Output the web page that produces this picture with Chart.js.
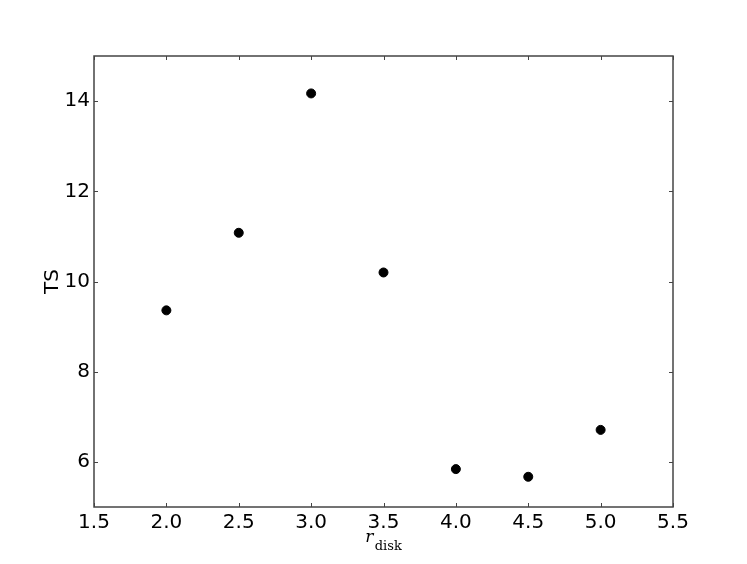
<!DOCTYPE html>
<html>
<head>
<meta charset="utf-8">
<script src="https://cdn.jsdelivr.net/npm/chart.js@4"></script>
<style>
  html, body { margin: 0; padding: 0; background: #fff; }
  #wrap { width: 747px; height: 564px; }
</style>
</head>
<body>
<div id="wrap"><canvas id="grafico"></canvas></div>
<script>
// valores
const rDisk = [2.0, 2.5, 3.0, 3.5, 4.0, 4.5, 5.0];
const tsValues = [9.36, 11.08, 14.17, 10.2, 5.84, 5.67, 6.71];
const xTicks = [1.5, 2.0, 2.5, 3.0, 3.5, 4.0, 4.5, 5.0, 5.5];
const yTicks = [6, 8, 10, 12, 14];

const FONT = 'DejaVu Sans';

// moldura, ticks para dentro nos quatro lados e títulos dos eixos
const framePlugin = {
  id: 'frame',
  afterDraw(chart) {
    const { ctx, chartArea: a, scales } = chart;
    ctx.save();
    ctx.strokeStyle = '#444';
    ctx.lineWidth = 1.5;
    ctx.strokeRect(a.left, a.top, a.right - a.left, a.bottom - a.top);

    ctx.lineWidth = 1;
    ctx.beginPath();
    xTicks.forEach(v => {
      const px = Math.round(scales.x.getPixelForValue(v)) + 0.5;
      ctx.moveTo(px, a.bottom); ctx.lineTo(px, a.bottom - 4);
      ctx.moveTo(px, a.top); ctx.lineTo(px, a.top + 4);
    });
    yTicks.forEach(v => {
      const py = Math.round(scales.y.getPixelForValue(v)) + 0.5;
      ctx.moveTo(a.left, py); ctx.lineTo(a.left + 4, py);
      ctx.moveTo(a.right, py); ctx.lineTo(a.right - 4, py);
    });
    ctx.stroke();

    // título do eixo x: r_disk
    ctx.fillStyle = '#000';
    ctx.textBaseline = 'alphabetic';
    const cx = (a.left + a.right) / 2;
    ctx.font = 'italic 17px "DejaVu Serif"';
    const wR = ctx.measureText('r').width;
    ctx.font = '13px "DejaVu Serif"';
    const wSub = ctx.measureText('disk').width;
    const x0 = cx - (wR + 1.5 + wSub) / 2;
    ctx.font = 'italic 17px "DejaVu Serif"';
    ctx.textAlign = 'left';
    ctx.fillText('r', x0, 542);
    ctx.font = '13px "DejaVu Serif"';
    ctx.fillText('disk', x0 + wR + 1.5, 550);

    // título do eixo y
    ctx.translate(58, (a.top + a.bottom) / 2);
    ctx.rotate(-Math.PI / 2);
    ctx.textAlign = 'center';
    ctx.font = '20px "' + FONT + '"';
    ctx.fillText('TS', 0, 0);
    ctx.restore();
  }
};

const ctx = document.getElementById('grafico');
new Chart(ctx, {
  type: 'scatter',
  data: {
    datasets: [{
      data: rDisk.map((x, i) => ({ x: x, y: tsValues[i] })),
      backgroundColor: '#000',
      borderColor: '#000',
      pointRadius: 4.5,
      pointHoverRadius: 4.5
    }]
  },
  options: {
    responsive: true,
    maintainAspectRatio: false,
    animation: false,
    events: [],
    layout: { padding: { left: 0, right: 74, top: 56, bottom: 0 } },
    plugins: { legend: { display: false }, tooltip: { enabled: false } },
    scales: {
      x: {
        type: 'linear',
        min: 1.5, max: 5.5,
        grid: { display: false, drawTicks: false },
        border: { display: false },
        afterBuildTicks: s => { s.ticks = xTicks.map(v => ({ value: v })); },
        afterFit: s => { s.height = 57; },
        ticks: {
          color: '#000',
          padding: 4,
          maxRotation: 0,
          font: { family: FONT, size: 20 },
          callback: v => v.toFixed(1)
        }
      },
      y: {
        min: 5, max: 15,
        grid: { display: false, drawTicks: false },
        border: { display: false },
        afterBuildTicks: s => { s.ticks = yTicks.map(v => ({ value: v })); },
        afterFit: s => { s.width = 94; },
        ticks: {
          color: '#000',
          padding: 4,
          font: { family: FONT, size: 20 },
          callback: v => String(v)
        }
      }
    }
  },
  plugins: [framePlugin]
});
</script>
</body>
</html>
